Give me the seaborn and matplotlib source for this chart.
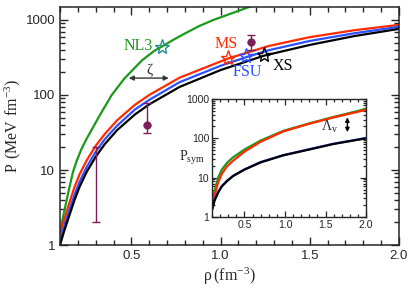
import numpy as np
import pandas as pd
import matplotlib
matplotlib.use("Agg")
import matplotlib.pyplot as plt
import matplotlib.ticker as mticker
import seaborn as sns

# pressure curves P(rho)
rho_nl3 = [0.1, 0.13, 0.15, 0.173, 0.195, 0.22, 0.245, 0.27, 0.307, 0.34, 0.39, 0.46,
           0.51, 0.56, 0.63, 0.67, 0.73, 0.8, 0.88, 0.96, 1.16, 1.3]
P_nl3 = [1.5, 3.3, 5.5, 9.5, 13.5, 19, 25, 32, 46, 63, 100, 165,
         219, 290, 390, 440, 535, 660, 830, 1000, 1490, 1900]

rho_ms = [0.1, 0.12, 0.15, 0.18, 0.21, 0.25, 0.3, 0.35, 0.42, 0.52, 0.6, 0.77, 1.04, 1.27, 1.5, 1.75, 2.0]
P_ms = [1.4, 2.05, 3.5, 5.8, 8.8, 13.5, 21, 30, 46, 74, 100, 170, 305, 450, 590, 730, 860]

rho_fsu = [0.1, 0.12, 0.15, 0.18, 0.21, 0.25, 0.3, 0.35, 0.42, 0.52, 0.6, 0.77, 1.0, 1.145, 1.27, 1.5, 1.75, 2.0]
P_fsu = [1.12, 1.65, 2.8, 4.6, 7.0, 11, 17.5, 25.5, 39, 64, 86, 148, 245, 320, 395, 525, 665, 810]

rho_xs = [0.1, 0.12, 0.145, 0.18, 0.21, 0.25, 0.3, 0.35, 0.42, 0.52, 0.6, 0.77, 1.0, 1.245, 1.5, 1.75, 2.0]
P_xs = [1.0, 1.45, 2.2, 3.9, 6.0, 9.5, 15, 22, 34, 55, 75, 128, 215, 335, 465, 610, 760]

# symmetric-matter pressure (inset)
rho_sym = [0.1, 0.13, 0.175, 0.22, 0.285, 0.36, 0.5, 0.7, 0.98, 1.3, 1.6, 2.0]
Psym_nl3 = [2.4, 4.5, 10, 16, 24, 33, 52, 88, 155, 240, 350, 560]
Psym_ms = [2.0, 3.5, 7.5, 12.5, 19.5, 27, 46, 82, 150, 235, 340, 530]
Psym_fsu = [1.55, 2.7, 4.3, 6.1, 8.4, 11.2, 16.3, 25, 37.5, 53, 73, 102]
Psym_xs = [1.5, 2.6, 4.2, 6.0, 8.2, 11, 16, 24.5, 37, 52, 72, 100]

# model points on the curves
star_rho = [0.67, 1.04, 1.145, 1.245]
star_P = [437, 310, 330, 340]
star_names = ["NL3", "MS", "FSU", "XS"]

# constraint points with error bars
err_rho = [0.3, 0.59, 1.17]
err_lo = [2, 31, 400]
err_hi = [20, 78, 630]
pt_rho = [0.59, 1.17]
pt_P = [40, 510]

colors = {"NL3": "#1a9a1a", "MS": "#ff2a00", "FSU": "#2a50ff", "XS": "black"}
star_colors = {"NL3": "#1f8f8f", "MS": "#ff2a00", "FSU": "#2a50ff", "XS": "black"}
maroon = "#7a1e5c"

sns.set_style("ticks")
plt.rcParams['font.family'] = ['Liberation Sans', 'DejaVu Sans']
serif = ['Liberation Serif', 'DejaVu Serif']

main = pd.concat([
    pd.DataFrame({"rho": rho_nl3, "P": P_nl3, "model": "NL3"}),
    pd.DataFrame({"rho": rho_ms, "P": P_ms, "model": "MS"}),
    pd.DataFrame({"rho": rho_fsu, "P": P_fsu, "model": "FSU"}),
    pd.DataFrame({"rho": rho_xs, "P": P_xs, "model": "XS"}),
])
sym = pd.concat([
    pd.DataFrame({"rho": rho_sym, "P": Psym_nl3, "model": "NL3"}),
    pd.DataFrame({"rho": rho_sym, "P": Psym_ms, "model": "MS"}),
    pd.DataFrame({"rho": rho_sym, "P": Psym_fsu, "model": "FSU"}),
    pd.DataFrame({"rho": rho_sym, "P": Psym_xs, "model": "XS"}),
])

fig = plt.figure(figsize=(4.15, 2.9), dpi=100)
ax = fig.add_axes([0.1446, 0.155, 0.8168, 0.821])

sns.lineplot(data=main, x="rho", y="P", hue="model", palette=colors, linewidth=1.6,
             legend=False, ax=ax, sort=False)

mid = np.sqrt(np.array(err_lo) * np.array(err_hi))
ax.errorbar(err_rho, mid, yerr=[mid - np.array(err_lo), np.array(err_hi) - mid],
            fmt="none", ecolor=maroon, elinewidth=1.0, capsize=3, capthick=1.0, zorder=4)
sns.scatterplot(x=pt_rho, y=pt_P, color=maroon, s=30, edgecolor=maroon, ax=ax, zorder=5)

for r, p, n in zip(star_rho, star_P, star_names):
    ax.plot(r, p, marker="*", markersize=11, markerfacecolor="none",
            markeredgecolor=star_colors[n], markeredgewidth=1.0, zorder=6)

ax.text(0.62, 455, "NL3", color=colors["NL3"], family=serif, fontsize=11.5, ha="right", va="center")
ax.text(1.03, 480, "MS", color=colors["MS"], family=serif, fontsize=11.5, ha="center", va="center")
ax.text(1.15, 203, "FSU", color=colors["FSU"], family=serif, fontsize=11.5, ha="center", va="center")
ax.text(1.35, 244, "XS", color="black", family=serif, fontsize=11.5, ha="center", va="center")

ax.annotate("", xy=(0.47, 168), xytext=(0.725, 168),
            arrowprops=dict(arrowstyle="<|-|>", color="#333333", lw=1.0, mutation_scale=7))
ax.text(0.6, 208, "ζ", family=serif, fontsize=11, ha="center", va="center")

ax.set_yscale("log")
ax.set_xlim(0.1, 2.0)
ax.set_ylim(1, 1490)
ax.xaxis.set_major_locator(mticker.MultipleLocator(0.5))
ax.xaxis.set_minor_locator(mticker.MultipleLocator(0.1))
ax.xaxis.set_major_formatter(mticker.FormatStrFormatter("%.1f"))
ax.yaxis.set_major_formatter(mticker.FuncFormatter(lambda v, _: f"{v:g}"))
ax.yaxis.set_minor_formatter(mticker.NullFormatter())
ax.tick_params(which="both", direction="in", top=True, right=True, labelsize=9.5, width=1.0)
ax.tick_params(which="major", length=6)
ax.tick_params(which="minor", length=3.5)
for s in ax.spines.values():
    s.set_linewidth(1.1)
ax.set_xlabel(r"$\mathregular{\rho\,(fm^{-3})}$", family=serif, fontsize=11.5, labelpad=3)
ax.set_ylabel(r"$\mathregular{P\ (MeV\ fm^{-3})}$", family=serif, fontsize=11.5, labelpad=2)

# inset
ins = fig.add_axes([0.511, 0.2517, 0.371, 0.4069])
sns.lineplot(data=sym, x="rho", y="P", hue="model", palette=colors, linewidth=1.6,
             legend=False, ax=ins, sort=False)
ins.annotate("", xy=(1.77, 400), xytext=(1.77, 122),
             arrowprops=dict(arrowstyle="<|-|>", color="black", lw=1.0, mutation_scale=6))
ins.text(1.55, 190, r"$\mathregular{\Lambda_v}$", family=serif, fontsize=10, ha="center", va="center")
ins.set_yscale("log")
ins.set_xlim(0.1, 2.0)
ins.set_ylim(1, 1000)
ins.xaxis.set_major_locator(mticker.MultipleLocator(0.5))
ins.xaxis.set_minor_locator(mticker.MultipleLocator(0.1))
ins.xaxis.set_major_formatter(mticker.FormatStrFormatter("%.1f"))
ins.yaxis.set_major_formatter(mticker.FuncFormatter(lambda v, _: f"{v:g}"))
ins.yaxis.set_minor_formatter(mticker.NullFormatter())
ins.tick_params(which="both", direction="in", top=True, right=True, labelsize=7.5, width=0.9, pad=2)
ins.tick_params(which="major", length=4.5)
ins.tick_params(which="minor", length=2.5)
for s in ins.spines.values():
    s.set_linewidth(1.0)
ins.set_xlabel("")
ins.set_ylabel("")
fig.text(192 / 415, 1 - 158 / 290, r"$\mathregular{P_{sym}}$", family=serif, fontsize=10,
         ha="center", va="center")

fig.savefig("out.png", dpi=100)
